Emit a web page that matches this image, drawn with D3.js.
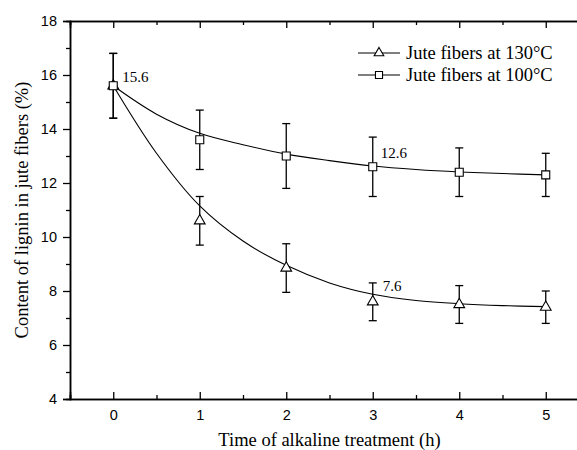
<!DOCTYPE html>
<html>
<head>
<meta charset="utf-8">
<script src="https://cdn.jsdelivr.net/npm/d3@7"></script>
<style>
  body { margin: 0; background: #fff; }
  svg { display: block; }
</style>
</head>
<body>
<div id="wrapper"></div>
<script>
// measured points
const times = [0, 1, 2, 3, 4, 5]
const lignin130 = [15.6, 10.6, 8.85, 7.6, 7.5, 7.4]
const err130 = [1.2, 0.9, 0.9, 0.7, 0.7, 0.6]
const lignin100 = [15.6, 13.6, 13.0, 12.6, 12.4, 12.3]
const err100 = [1.2, 1.1, 1.2, 1.1, 0.9, 0.8]

// fitted curves
const fitTimes = [0, 0.5, 1, 1.5, 2, 2.5, 3, 3.5, 4, 4.5, 5]
const fit130 = [15.6, 13.1, 11.15, 9.85, 8.95, 8.3, 7.88, 7.65, 7.53, 7.46, 7.42]
const fit100 = [15.6, 14.55, 13.84, 13.42, 13.07, 12.83, 12.63, 12.5, 12.41, 12.35, 12.3]

const pointLabels = [
    { series: "130", index: 3, text: "7.6" },
    { series: "100", index: 0, text: "15.6" },
    { series: "100", index: 3, text: "12.6" },
]

const yTicks = [4, 6, 8, 10, 12, 14, 16, 18]
const xTicks = [0, 1, 2, 3, 4, 5]

const legendNames = ["Jute fibers at 130\u00B0C", "Jute fibers at 100\u00B0C"]

const dimensions = {
    width: 577,
    height: 450,
    margin: { top: 21, right: -12, bottom: 51, left: 70 },
}
dimensions.boundedWidth = dimensions.width - dimensions.margin.left - dimensions.margin.right
dimensions.boundedHeight = dimensions.height - dimensions.margin.top - dimensions.margin.bottom

const serif = "'Liberation Serif', 'Times New Roman', serif"
const sans = "'Liberation Sans', Arial, sans-serif"

const wrapper = d3.select("#wrapper")
    .append("svg")
    .attr("width", dimensions.width)
    .attr("height", dimensions.height)

const bounds = wrapper.append("g")
    .attr("transform", `translate(${dimensions.margin.left},${dimensions.margin.top})`)

const xScaler = d3.scaleLinear()
    .domain([-0.5, 5.5])
    .range([0, dimensions.boundedWidth])

const yScaler = d3.scaleLinear()
    .domain([4, 18])
    .range([dimensions.boundedHeight, 0])

// axes
const minorX = d3.range(-0.5, 5.51, 0.5).filter(v => !Number.isInteger(v))
const minorY = d3.range(5, 18, 2)

const xAxis = bounds.append("g")
    .attr("transform", `translate(0,${dimensions.boundedHeight})`)
xAxis.call(d3.axisBottom(xScaler).tickValues(xTicks).tickSize(-7).tickPadding(11).tickFormat(d3.format("d")))
xAxis.append("g").call(d3.axisBottom(xScaler).tickValues(minorX).tickSize(-4).tickFormat(""))

const topAxis = bounds.append("g")
topAxis.call(d3.axisTop(xScaler).tickValues(xTicks).tickSize(-7).tickFormat(""))
topAxis.append("g").call(d3.axisTop(xScaler).tickValues(minorX).tickSize(-4).tickFormat(""))

const yAxis = bounds.append("g")
yAxis.call(d3.axisLeft(yScaler).tickValues(yTicks).tickSize(7).tickPadding(6))
yAxis.append("g").call(d3.axisLeft(yScaler).tickValues(minorY).tickSize(4).tickFormat(""))

bounds.selectAll(".domain")
    .attr("stroke", "#000")
    .attr("stroke-width", 1.5)
bounds.selectAll(".tick line")
    .attr("stroke", "#000")
    .attr("stroke-width", 1.3)
bounds.selectAll(".tick text")
    .style("font-family", sans)
    .style("font-size", "14.5px")
    .attr("fill", "#000")

// axis titles
wrapper.append("text")
    .attr("x", dimensions.margin.left + xScaler(2.5))
    .attr("y", 446)
    .attr("text-anchor", "middle")
    .style("font-family", serif)
    .style("font-size", "18.5px")
    .text("Time of alkaline treatment (h)")

wrapper.append("text")
    .attr("transform", `translate(28,${dimensions.margin.top + dimensions.boundedHeight / 2}) rotate(-90)`)
    .attr("text-anchor", "middle")
    .style("font-family", serif)
    .style("font-size", "18.5px")
    .text("Content of lignin in jute fibers (%)")

// fitted curves
const lineGen = d3.line()
    .x(d => xScaler(d[0]))
    .y(d => yScaler(d[1]))
    .curve(d3.curveCatmullRom)

const fits = [fit130, fit100]
bounds.selectAll(".fit")
    .data(fits)
    .join("path")
    .attr("class", "fit")
    .attr("fill", "none")
    .attr("stroke", "#000")
    .attr("stroke-width", 1.1)
    .attr("d", vals => lineGen(fitTimes.map((t, i) => [t, vals[i]])))

// error bars and markers
const series = [
    { key: "130", values: lignin130, errs: err130, symbol: d3.symbolTriangle, size: 50 },
    { key: "100", values: lignin100, errs: err100, symbol: d3.symbolSquare, size: 64 },
]

const capHalf = 4
series.forEach(s => {
    const pts = times.map((t, i) => ({ t, v: s.values[i], e: s.errs[i] }))
    const g = bounds.append("g").attr("class", `series-${s.key}`)

    const bars = g.selectAll(".err").data(pts).join("g").attr("class", "err")
        .attr("stroke", "#000").attr("stroke-width", 1.3)
    bars.append("line")
        .attr("x1", d => xScaler(d.t)).attr("x2", d => xScaler(d.t))
        .attr("y1", d => yScaler(d.v + d.e)).attr("y2", d => yScaler(d.v - d.e))
    bars.append("line")
        .attr("x1", d => xScaler(d.t) - capHalf).attr("x2", d => xScaler(d.t) + capHalf)
        .attr("y1", d => yScaler(d.v + d.e)).attr("y2", d => yScaler(d.v + d.e))
    bars.append("line")
        .attr("x1", d => xScaler(d.t) - capHalf).attr("x2", d => xScaler(d.t) + capHalf)
        .attr("y1", d => yScaler(d.v - d.e)).attr("y2", d => yScaler(d.v - d.e))

    g.selectAll(".marker").data(pts).join("path")
        .attr("class", "marker")
        .attr("transform", d => `translate(${xScaler(d.t)},${yScaler(d.v)})`)
        .attr("d", d3.symbol().type(s.symbol).size(s.size))
        .attr("fill", "#fff")
        .attr("stroke", "#000")
        .attr("stroke-width", 1.1)
})

// value labels
const labelOffset = { "130": [10, -11], "100": [8, -9] }
bounds.selectAll(".pt-label")
    .data(pointLabels)
    .join("text")
    .attr("class", "pt-label")
    .attr("x", d => xScaler(times[d.index]) + labelOffset[d.series][0] + (d.index === 0 ? 1 : 0))
    .attr("y", d => yScaler((d.series === "130" ? lignin130 : lignin100)[d.index]) + (d.index === 0 ? -4 : labelOffset[d.series][1]))
    .style("font-family", serif)
    .style("font-size", "15px")
    .text(d => d.text)

// legend
const legend = wrapper.append("g")
const legendSymbols = [d3.symbolTriangle, d3.symbolSquare]
const legendSizes = [40, 50]
legendNames.forEach((name, i) => {
    const y = 53 + i * 22
    legend.append("line")
        .attr("x1", 358).attr("x2", 400)
        .attr("y1", y).attr("y2", y)
        .attr("stroke", "#000").attr("stroke-width", 1.1)
    legend.append("path")
        .attr("transform", `translate(379,${y})`)
        .attr("d", d3.symbol().type(legendSymbols[i]).size(legendSizes[i]))
        .attr("fill", "#fff").attr("stroke", "#000").attr("stroke-width", 1.1)
    legend.append("text")
        .attr("x", 406).attr("y", y)
        .attr("dy", "0.35em")
        .style("font-family", serif)
        .style("font-size", "18.5px")
        .text(name)
})
</script>
</body>
</html>
